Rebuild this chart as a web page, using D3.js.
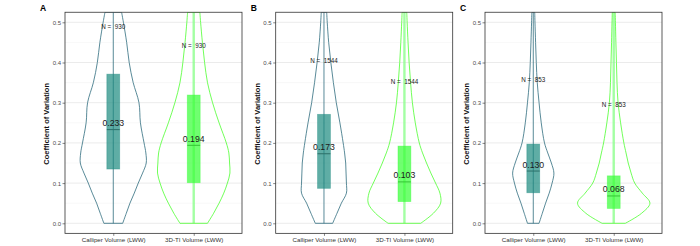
<!DOCTYPE html>
<html>
<head>
<meta charset="utf-8">
<script src="https://cdn.jsdelivr.net/npm/d3@7"></script>
<style>
  body { margin: 0; background: #fff; }
  svg { font-family: "Liberation Sans", Arial, sans-serif; }
</style>
</head>
<body>
<div id="chart"></div>
<script>
// ---- data ----
const panels = ["A", "B", "C"];
const groups = ["Calliper Volume (LWW)", "3D-TI Volume (LWW)"];
const yTicks = [0, 0.1, 0.2, 0.3, 0.4, 0.5];

// violin profile: relative density at each CV value
const cvGrid = [0, 0.025, 0.05, 0.075, 0.1, 0.125, 0.15, 0.175, 0.2, 0.25, 0.3, 0.35, 0.4, 0.45, 0.5, 0.525];
const densA_cal = [0.26, 0.36, 0.46, 0.58, 0.69, 0.81, 0.91, 0.90, 0.85, 0.75, 0.71, 0.55, 0.44, 0.37, 0.28, 0.23];
const densA_3d  = [0.38, 0.55, 0.70, 0.83, 0.93, 1.00, 0.99, 0.97, 0.90, 0.70, 0.52, 0.38, 0.30, 0.24, 0.19, 0.17];
const densB_cal = [0.24, 0.36, 0.48, 0.62, 0.62, 0.61, 0.60, 0.57, 0.53, 0.44, 0.34, 0.26, 0.19, 0.13, 0.09, 0.075];
const densB_3d  = [0.45, 0.80, 1.00, 0.98, 0.86, 0.73, 0.61, 0.50, 0.41, 0.30, 0.22, 0.17, 0.13, 0.10, 0.075, 0.064];
const densC_cal = [0.16, 0.25, 0.34, 0.44, 0.52, 0.57, 0.50, 0.40, 0.31, 0.22, 0.16, 0.11, 0.083, 0.064, 0.047, 0.04];
const densC_3d  = [0.32, 0.77, 1.00, 0.79, 0.58, 0.48, 0.40, 0.34, 0.28, 0.19, 0.12, 0.09, 0.075, 0.06, 0.047, 0.04];

// box stats: [q1, median, q3] per panel, per group
const boxA = [[0.135, 0.233, 0.371], [0.101, 0.194, 0.319]];
const boxB = [[0.087, 0.173, 0.271], [0.054, 0.103, 0.192]];
const boxC = [[0.076, 0.130, 0.197], [0.037, 0.068, 0.118]];

const nCounts = [930, 1544, 853];
// height (CV) at which the "N = " label sits
const nLabelY = [[0.489, 0.441], [0.403, 0.351], [0.358, 0.296]];

const dens = [[densA_cal, densA_3d], [densB_cal, densB_3d], [densC_cal, densC_3d]];
const boxes = [boxA, boxB, boxC];

// ---- layout ----
const W = 700, H = 246;
const panelLeft = [65, 275.7, 485];
const panelW = 177;
const plotTop = 12.25, plotBottom = 233.35;

const stroke = ["#2f6c7e", "#4cff2e"];
const boxFill = ["#1b8a7f", "#33ff33"];
const medCol = ["#2b6f69", "#33c433"];
const centerLine = [{ c: "#2f6c7e", w: 0.8, o: 1 }, { c: "#8cff8c", w: 2.4, o: 0.8 }];

const svg = d3.select("#chart").append("svg")
  .attr("width", W).attr("height", H);

const y = d3.scaleLinear().domain([-0.025, 0.525]).range([plotBottom, plotTop]);

panels.forEach((tag, p) => {
  const x0 = panelLeft[p];
  const x = d3.scalePoint().domain(groups).range([x0, x0 + panelW]).padding(0.6);
  const step = x.step();
  const halfW = d3.scaleLinear().domain([0, 1]).range([0, 0.45 * step]);

  const g = svg.append("g");

  g.append("clipPath").attr("id", "clip" + p)
    .append("rect").attr("x", x0).attr("y", plotTop).attr("width", panelW).attr("height", plotBottom - plotTop);

  // grid
  const minor = d3.range(0.05, 0.55, 0.1);
  g.selectAll(".minor").data(minor).join("line")
    .attr("x1", x0).attr("x2", x0 + panelW)
    .attr("y1", d => y(d)).attr("y2", d => y(d))
    .attr("stroke", "#f0f0f0").attr("stroke-width", 0.5);
  g.selectAll(".major").data(yTicks).join("line")
    .attr("x1", x0).attr("x2", x0 + panelW)
    .attr("y1", d => y(d)).attr("y2", d => y(d))
    .attr("stroke", "#e6e6e6").attr("stroke-width", 0.8);

  const plot = g.append("g").attr("clip-path", `url(#clip${p})`);

  groups.forEach((grp, k) => {
    const cx = x(grp);
    const pts = cvGrid.map((v, i) => ({ v, d: dens[p][k][i] }));

    // center line
    plot.append("line")
      .attr("x1", cx).attr("x2", cx)
      .attr("y1", y(0)).attr("y2", plotTop)
      .attr("stroke", centerLine[k].c)
      .attr("stroke-width", centerLine[k].w)
      .attr("stroke-opacity", centerLine[k].o);

    // violin
    const area = d3.area()
      .y(d => y(d.v))
      .x0(d => cx - halfW(d.d))
      .x1(d => cx + halfW(d.d))
      .curve(d3.curveCatmullRom);
    plot.append("path")
      .attr("d", area(pts))
      .attr("fill", "none")
      .attr("stroke", stroke[k])
      .attr("stroke-width", 0.8);

    // box
    const [q1, med, q3] = boxes[p][k];
    const bw = 0.16 * step;
    plot.append("rect")
      .attr("x", cx - bw / 2).attr("width", bw)
      .attr("y", y(q3)).attr("height", y(q1) - y(q3))
      .attr("fill", boxFill[k]).attr("fill-opacity", 0.7)
      .attr("stroke", boxFill[k]).attr("stroke-opacity", 0.45)
      .attr("stroke-width", 0.8);
    plot.append("line")
      .attr("x1", cx - bw / 2).attr("x2", cx + bw / 2)
      .attr("y1", y(med)).attr("y2", y(med))
      .attr("stroke", medCol[k]).attr("stroke-width", 1);

    g.append("text")
      .attr("x", cx).attr("y", y(med) - 3.5)
      .attr("text-anchor", "middle")
      .attr("font-size", 8.7)
      .attr("fill", "#1a1a1a")
      .text(med.toFixed(3));

    g.append("text")
      .attr("x", cx).attr("y", y(nLabelY[p][k]))
      .attr("dy", "0.35em")
      .attr("text-anchor", "middle")
      .attr("font-size", 6.3)
      .attr("fill", "#1a1a1a")
      .attr("xml:space", "preserve")
      .text("N =  " + nCounts[p]);
  });

  // border
  g.append("rect")
    .attr("x", x0).attr("y", plotTop).attr("width", panelW).attr("height", plotBottom - plotTop)
    .attr("fill", "none").attr("stroke", "#333").attr("stroke-width", 0.8);

  // axes
  const yAxis = d3.axisLeft(y).tickValues(yTicks).tickFormat(d3.format(".1f"))
    .tickSize(2.5).tickPadding(1.5);
  const ya = g.append("g").attr("transform", `translate(${x0},0)`).call(yAxis);
  ya.select(".domain").remove();
  ya.selectAll("line").attr("stroke", "#333").attr("stroke-width", 0.6);
  ya.selectAll("text").attr("font-size", 6).attr("fill", "#4d4d4d")
    .attr("font-family", "Liberation Sans, Arial, sans-serif");

  const xAxis = d3.axisBottom(x).tickSize(2.5).tickPadding(2);
  const xa = g.append("g").attr("transform", `translate(0,${plotBottom})`).call(xAxis);
  xa.select(".domain").remove();
  xa.selectAll("line").attr("stroke", "#333").attr("stroke-width", 0.6);
  xa.selectAll("text").attr("font-size", 6.2).attr("fill", "#333")
    .attr("font-family", "Liberation Sans, Arial, sans-serif");

  // y title
  g.append("text")
    .attr("transform", `translate(${x0 - 16},${(plotTop + plotBottom) / 2 + 1}) rotate(-90)`)
    .attr("text-anchor", "middle")
    .attr("font-size", 7.5)
    .attr("font-weight", "bold")
    .attr("fill", "#111")
    .text("Coefficient of Variation");

  // tag
  g.append("text")
    .attr("x", x0 - 25).attr("y", 11)
    .attr("font-size", 8.5)
    .attr("font-weight", "bold")
    .attr("fill", "#000")
    .text(tag);
});
</script>
</body>
</html>
